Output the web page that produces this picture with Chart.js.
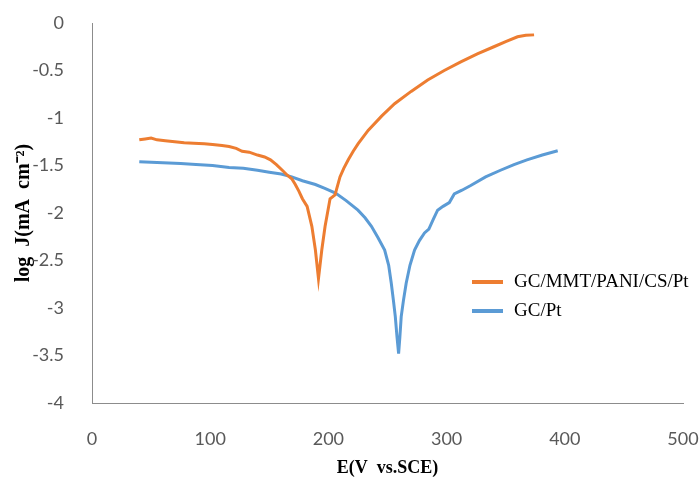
<!DOCTYPE html>
<html>
<head>
<meta charset="utf-8">
<script src="https://cdn.jsdelivr.net/npm/chart.js@4/dist/chart.umd.min.js"></script>
<style>
html,body{margin:0;padding:0;background:#fff;}
#wrap{width:699px;height:480px;position:relative;}
</style>
</head>
<body>
<div id="wrap"><canvas id="c" width="699" height="480"></canvas></div>
<script>
const seriesNames = ["GC/MMT/PANI/CS/Pt", "GC/Pt"];
const xTitle = "E(V  vs.SCE)";
const yTitle = "log  J(mA  cm\u207B\u00B2)";

const orangeE = [40, 45, 50, 55, 62, 70, 78, 86, 95, 102, 110, 116, 122, 127, 133, 140, 146, 151, 156, 161, 165, 169, 172, 175, 178, 182, 186, 189, 191.6, 194.4, 197.2, 201.4, 205.6, 209.8, 213, 216.8, 221, 225.2, 233.6, 245, 256, 270, 284, 298, 312, 326, 340, 350, 360, 367, 374];
const orangeJ = [-1.23, -1.22, -1.21, -1.23, -1.24, -1.25, -1.26, -1.265, -1.27, -1.28, -1.29, -1.30, -1.32, -1.35, -1.36, -1.39, -1.41, -1.44, -1.49, -1.55, -1.60, -1.64, -1.70, -1.77, -1.85, -1.93, -2.14, -2.39, -2.69, -2.39, -2.14, -1.85, -1.81, -1.62, -1.53, -1.44, -1.35, -1.27, -1.13, -0.98, -0.85, -0.72, -0.60, -0.50, -0.41, -0.325, -0.25, -0.195, -0.145, -0.13, -0.125];

const blueE = [40, 50, 60, 75, 88, 102, 116, 128, 140, 150, 160, 169, 178, 189, 197, 206, 215, 225, 231, 236.4, 242, 247.6, 251, 253.2, 255, 256.6, 258, 259.4, 260.5, 261.6, 263.5, 265.8, 269, 272.9, 277, 281.3, 285, 289, 292.4, 297, 302.3, 306.5, 313, 320.4, 333, 345.6, 357, 368, 381, 394];
const blueJ = [-1.46, -1.465, -1.47, -1.48, -1.49, -1.50, -1.52, -1.53, -1.55, -1.57, -1.59, -1.62, -1.66, -1.70, -1.74, -1.79, -1.87, -1.97, -2.05, -2.14, -2.26, -2.39, -2.55, -2.74, -2.92, -3.09, -3.30, -3.48, -3.30, -3.09, -2.92, -2.74, -2.55, -2.39, -2.29, -2.21, -2.17, -2.06, -1.97, -1.93, -1.89, -1.80, -1.76, -1.71, -1.62, -1.55, -1.49, -1.44, -1.39, -1.345];

const colors = ["#ED7D31", "#5B9BD5"];

function pts(xs, ys){ return xs.map((x,i)=>({x:x, y:ys[i]})); }

const legendPlugin = {
  id: 'sideLegend',
  afterDraw(chart){
    const ctx = chart.ctx;
    ctx.save();
    ctx.font = '19px "Liberation Serif", "Times New Roman", serif';
    ctx.textBaseline = 'middle';
    ctx.fillStyle = '#000';
    const rows = [282, 311];
    chart.data.datasets.forEach((ds, i) => {
      const y = rows[i];
      ctx.strokeStyle = ds.borderColor;
      ctx.lineWidth = 4;
      ctx.beginPath();
      ctx.moveTo(472, y);
      ctx.lineTo(503, y);
      ctx.stroke();
      ctx.fillText(ds.label, 514, y);
    });
    ctx.restore();
  }
};

function noPad(s){ s.paddingLeft = 0; s.paddingRight = 0; s.paddingTop = 0; s.paddingBottom = 0; }

new Chart(document.getElementById('c'), {
  type: 'scatter',
  data: {
    datasets: [
      { label: seriesNames[0], data: pts(orangeE, orangeJ), showLine: true, borderColor: colors[0], backgroundColor: colors[0], borderWidth: 3, pointRadius: 0, tension: 0 },
      { label: seriesNames[1], data: pts(blueE, blueJ), showLine: true, borderColor: colors[1], backgroundColor: colors[1], borderWidth: 3, pointRadius: 0, tension: 0 }
    ]
  },
  options: {
    responsive: false,
    animation: false,
    layout: { padding: { top: 23, right: 16, bottom: 0, left: 0 } },
    plugins: { legend: { display: false }, tooltip: { enabled: false } },
    scales: {
      x: {
        type: 'linear', min: 0, max: 500,
        ticks: { stepSize: 100, color: '#595959', font: { family: 'Lato', size: 18 }, padding: 17, maxRotation: 0 },
        grid: { display: false },
        border: { display: true, color: '#8c8c8c', width: 1 },
        title: { display: true, text: xTitle, color: '#000', font: { family: '"Liberation Serif", serif', size: 18, weight: 'bold' }, padding: { top: 0, bottom: 1 } },
        afterFit(s){ s.height = 77; noPad(s); }
      },
      y: {
        min: -4, max: 0,
        ticks: { stepSize: 0.5, color: '#595959', font: { family: 'Lato', size: 18 }, padding: 20, callback: v => String(v) },
        grid: { display: false },
        border: { display: true, color: '#8c8c8c', width: 1 },
        title: { display: true, text: yTitle, color: '#000', font: { family: '"Liberation Serif", serif', size: 20, weight: 'bold' }, padding: { top: 12, bottom: 0 } },
        afterFit(s){ s.width = 92; noPad(s); }
      }
    }
  },
  plugins: [legendPlugin]
});
</script>
</body>
</html>
